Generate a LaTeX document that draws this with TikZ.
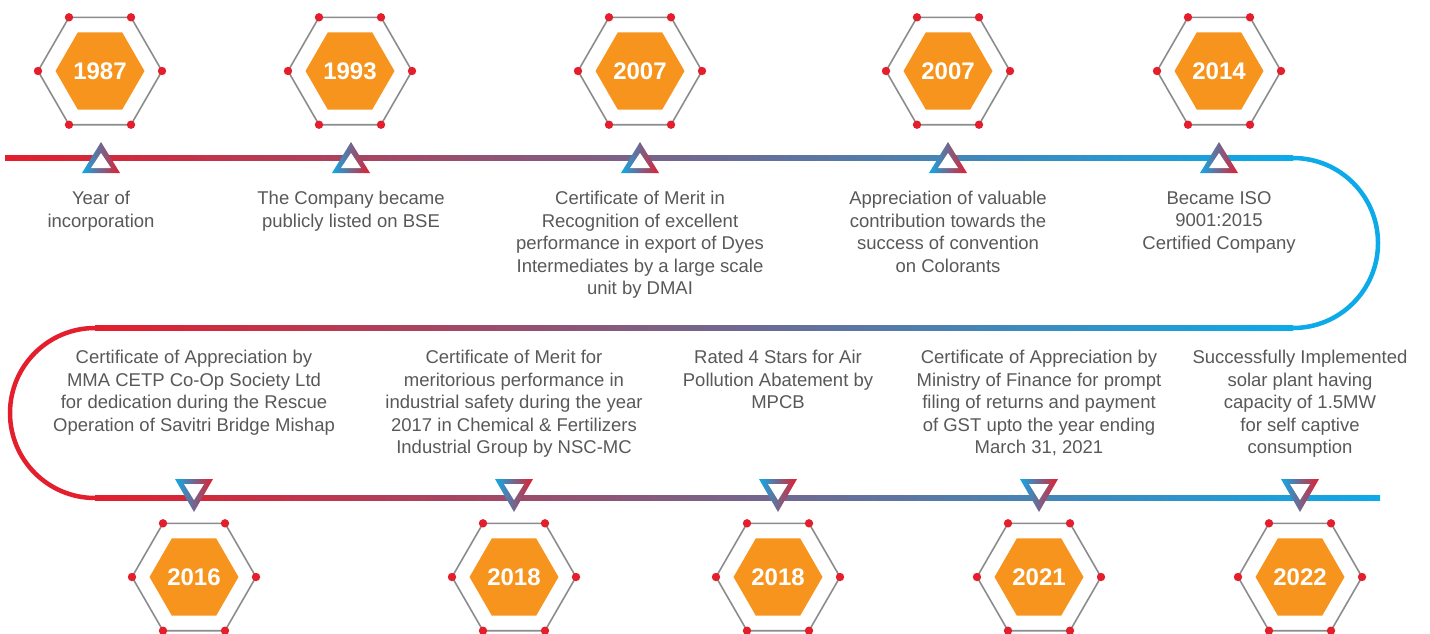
\documentclass[tikz,border=0pt]{standalone}
\usepackage{fontspec}
\setmainfont{Liberation Sans}
\usetikzlibrary{shapes.geometric}
\definecolor{tlred}{RGB}{227,30,45}
\definecolor{tlblue}{RGB}{12,170,232}
\definecolor{hexorange}{RGB}{247,148,29}
\definecolor{hexgray}{RGB}{140,140,140}
\definecolor{txtgray}{RGB}{88,88,88}

\begin{document}
\begin{tikzpicture}[x=1pt, y=-1pt, hexo/.style={draw=hexgray, line width=1.6pt, regular polygon, regular polygon sides=6, minimum size=124pt, inner sep=0pt, outer sep=0pt}, hexi/.style={fill=hexorange, regular polygon, regular polygon sides=6, minimum size=89pt, inner sep=0pt, text=white, font=\fontsize{24}{28}\selectfont\bfseries}, info/.style={anchor=north, align=center, inner sep=0pt, text=txtgray, font=\fontsize{18.5}{22.5}\selectfont}, vdot/.style={fill=tlred}, tline/.style={line width=4.5pt}]
            \useasboundingbox (0,0) rectangle (1430,633);
            % timeline
            \coordinate (tl) at (5,158);
            \coordinate (tr) at (1293,158);
            \coordinate (mr) at (1293,328);
            \coordinate (ml) at (95,328);
            \coordinate (bl) at (95,498);
            \coordinate (br) at (1380,498);
            \shade[left color=tlred, right color=tlblue] ([yshift=2.25pt]tl) rectangle ([yshift=-2.25pt]tr);
            \draw[tline, tlblue] (tr) arc[start angle=-90, end angle=90, radius=85];
            \shade[left color=tlred, right color=tlblue] ([yshift=2.25pt]ml) rectangle ([yshift=-2.25pt]mr);
            \draw[tline, tlred] (ml) arc[start angle=270, end angle=90, radius=85];
            \shade[left color=tlred, right color=tlblue] ([yshift=2.25pt]bl) rectangle ([yshift=-2.25pt]br);
            % markers
            \foreach \x in {101,351,640,948,1219} {
                \shade[left color=tlblue, right color=tlred] (\x-19,173) -- (\x,142) -- (\x+19,173) -- cycle;
                \fill[white] (\x-10,168) -- (\x,153) -- (\x+10,168) -- cycle;
            }
            \foreach \x in {194,514,778,1039,1300} {
                \shade[left color=tlblue, right color=tlred] (\x-19,479) -- (\x,512) -- (\x+19,479) -- cycle;
                \fill[white] (\x-10,484) -- (\x,500) -- (\x+10,484) -- cycle;
            }
            % years
            \foreach \x/\y/\yr [count=\i] in {100/71/1987, 350/71/1993, 640/71/2007, 948/71/2007, 1219/71/2014, 194/577/2016, 514/577/2018, 778/577/2018, 1039/577/2021, 1300/577/2022} {
                \node[hexo] (h\i) at (\x,\y) {};
                \node[hexi] (y\i) at (h\i) {\yr};
                \foreach \k in {1,...,6} \fill[vdot] (h\i.corner \k) circle (4.2pt);
            }
            % texts
            \node[info] (t1) at (101,191) {Year of\\incorporation};
            \node[info] (t2) at (351,191) {The Company became\\publicly listed on BSE};
            \node[info] (t3) at (640,191) {Certificate of Merit in\\Recognition of excellent\\performance in export of Dyes\\Intermediates by a large scale\\unit by DMAI};
            \node[info] (t4) at (948,191) {Appreciation of valuable\\contribution towards the\\success of convention\\on Colorants};
            \node[info] (t5) at (1219,191) {Became ISO\\9001:2015\\Certified Company};
            \node[info] (b1) at (194,350) {Certificate of Appreciation by\\MMA CETP Co-Op Society Ltd\\for dedication during the Rescue\\Operation of Savitri Bridge Mishap};
            \node[info] (b2) at (514,350) {Certificate of Merit for\\meritorious performance in\\industrial safety during the year\\2017 in Chemical \& Fertilizers\\Industrial Group by NSC-MC};
            \node[info] (b3) at (778,350) {Rated 4 Stars for Air\\Pollution Abatement by\\MPCB};
            \node[info] (b4) at (1039,350) {Certificate of Appreciation by\\Ministry of Finance for prompt\\filing of returns and payment\\of GST upto the year ending\\March 31, 2021};
            \node[info] (b5) at (1300,350) {Successfully Implemented\\solar plant having\\capacity of 1.5MW\\for self captive\\consumption};
        \end{tikzpicture}
\end{document}
